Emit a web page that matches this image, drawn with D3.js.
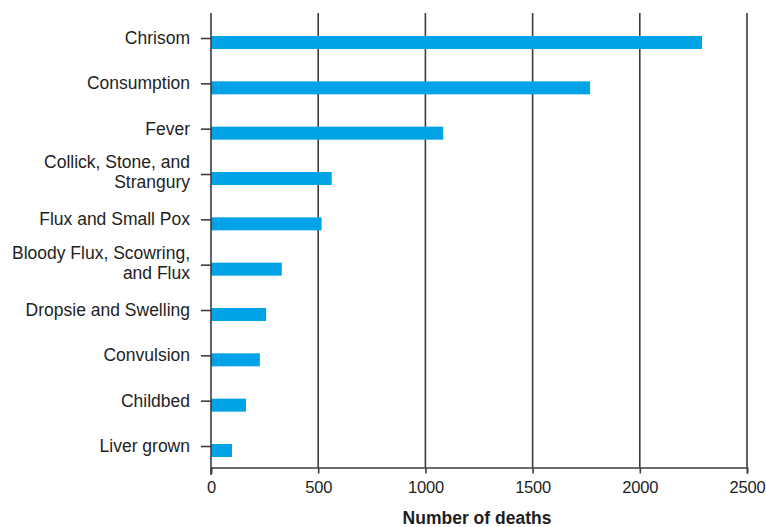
<!DOCTYPE html>
<html>
<head>
<meta charset="utf-8">
<script src="https://cdn.jsdelivr.net/npm/d3@7"></script>
<style>
  html, body { margin: 0; padding: 0; background: #fff; }
  svg { display: block; }
  text { font-family: "Liberation Sans", Arial, sans-serif; fill: #1e1e1e; }
</style>
</head>
<body>
<svg id="chart" width="766" height="527"></svg>
<script>
const categories = [
  "Chrisom",
  "Consumption",
  "Fever",
  "Collick, Stone, and Strangury",
  "Flux and Small Pox",
  "Bloody Flux, Scowring, and Flux",
  "Dropsie and Swelling",
  "Convulsion",
  "Childbed",
  "Liver grown"
];
const labelLines = [
  ["Chrisom"],
  ["Consumption"],
  ["Fever"],
  ["Collick, Stone, and", "Strangury"],
  ["Flux and Small Pox"],
  ["Bloody Flux, Scowring,", "and Flux"],
  ["Dropsie and Swelling"],
  ["Convulsion"],
  ["Childbed"],
  ["Liver grown"]
];
const deaths = [2290, 1768, 1083, 563, 516, 330, 257, 228, 163, 98];
const xTicks = [0, 500, 1000, 1500, 2000, 2500];
const xTitle = "Number of deaths";

(function () {
const svg = d3.select("#chart");
const mLeft = 211, mRight = 747, mTop = 13, mBottom = 467.5;

const x = d3.scaleLinear().domain([0, 2500]).range([mLeft, mRight]);
const y = d3.scalePoint().domain(categories).range([38, 446]);

const gridColor = "#3c3c3c";

// gridlines
svg.append("g").selectAll("line")
  .data(xTicks.slice(1))
  .join("line")
  .attr("x1", d => x(d)).attr("x2", d => x(d))
  .attr("y1", mTop).attr("y2", mBottom)
  .attr("stroke", gridColor).attr("stroke-width", 1.6);

// bars
svg.append("g").selectAll("rect")
  .data(categories)
  .join("rect")
  .attr("x", x(0))
  .attr("y", d => y(d) - 2)
  .attr("width", (d, i) => x(deaths[i]) - x(0))
  .attr("height", 13)
  .attr("fill", "#00a3e6");

// left axis line
svg.append("line")
  .attr("x1", mLeft).attr("x2", mLeft)
  .attr("y1", mTop).attr("y2", 475)
  .attr("stroke", gridColor).attr("stroke-width", 1.6);

// bottom axis
const xAxis = d3.axisBottom(x).tickValues(xTicks).tickSize(6).tickPadding(8).tickFormat(d3.format("d"));
const gx = svg.append("g").attr("transform", `translate(0,${mBottom})`).call(xAxis);
gx.select(".domain").attr("stroke", gridColor).attr("stroke-width", 1.6);
gx.selectAll(".tick line").attr("stroke", gridColor).attr("stroke-width", 1.6);
gx.selectAll(".tick text")
  .attr("font-family", "Liberation Sans, Arial, sans-serif")
  .attr("font-size", 16.5)
  .attr("letter-spacing", -0.2)
  .attr("fill", "#1e1e1e");

// left axis ticks
const yAxis = d3.axisLeft(y).tickSize(10).tickPadding(10).tickFormat("");
const gy = svg.append("g").attr("transform", `translate(${mLeft},0)`).call(yAxis);
gy.select(".domain").remove();
gy.selectAll(".tick line").attr("stroke", gridColor).attr("stroke-width", 1.6);

// category labels
const lh = 20;
svg.append("g").selectAll("text")
  .data(categories)
  .join("text")
  .attr("text-anchor", "end")
  .attr("font-size", 17.5)
  .each(function (d, i) {
    const lines = labelLines[i];
    const n = lines.length;
    const cy = y(d) - (n > 1 ? 2 : 0);
    d3.select(this).selectAll("tspan")
      .data(lines)
      .join("tspan")
      .attr("x", 190)
      .attr("y", (l, j) => cy + (j - (n - 1) / 2) * lh)
      .attr("dy", "0.35em")
      .text(l => l);
  });

// x title
svg.append("text")
  .attr("x", (mLeft + mRight) / 2 - 2)
  .attr("y", 518)
  .attr("dy", "0.35em")
  .attr("text-anchor", "middle")
  .attr("font-size", 17.5)
  .attr("font-weight", "bold")
  .text(xTitle);
})();
</script>
</body>
</html>
